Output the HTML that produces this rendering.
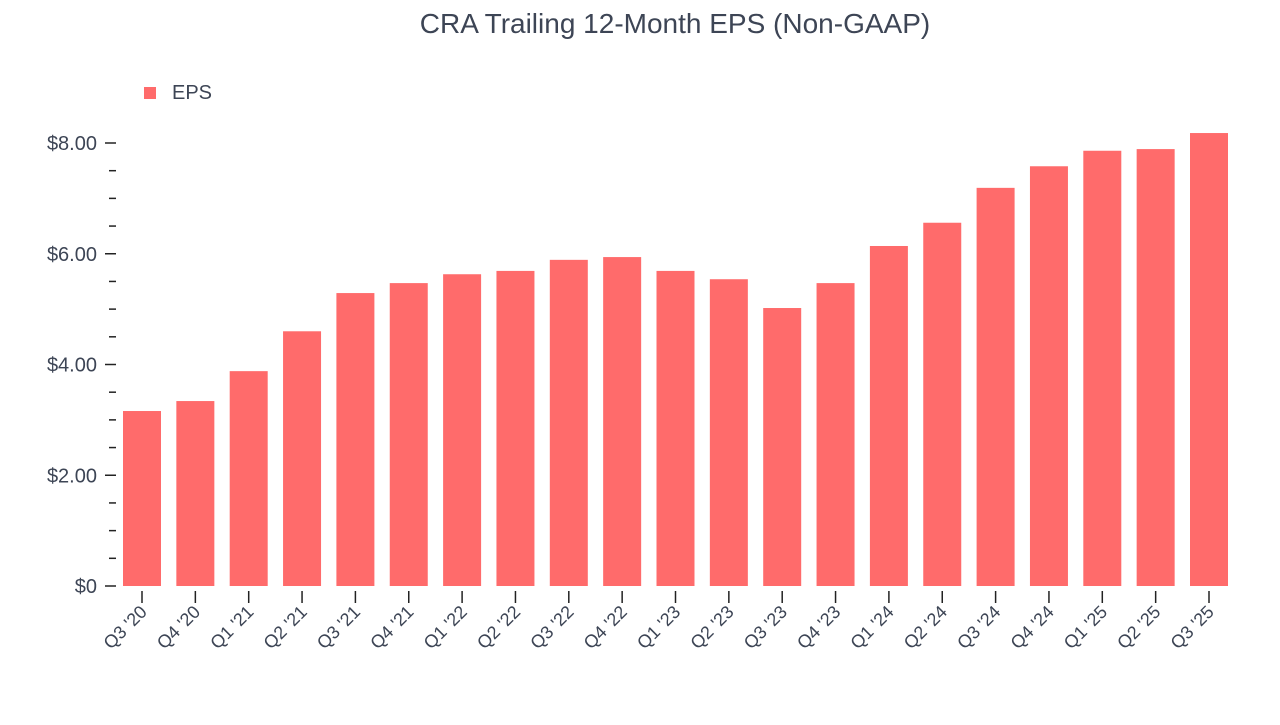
<!DOCTYPE html>
<html><head><meta charset="utf-8"><style>
body{margin:0;background:#fff;font-family:"Liberation Sans",sans-serif;}
svg text{font-family:"Liberation Sans",sans-serif;fill:#3d4555;}
</style></head><body>
<svg width="1280" height="720">
<text x="675" y="33" font-size="28" text-anchor="middle">CRA Trailing 12-Month EPS (Non-GAAP)</text>
<rect x="144" y="87" width="12" height="12" fill="#ff6b6b"/>
<text x="172" y="99" font-size="20">EPS</text>
<g id="plot"></g>
</svg>
<script>
const categories=["Q3 '20","Q4 '20","Q1 '21","Q2 '21","Q3 '21","Q4 '21","Q1 '22","Q2 '22","Q3 '22","Q4 '22","Q1 '23","Q2 '23","Q3 '23","Q4 '23","Q1 '24","Q2 '24","Q3 '24","Q4 '24","Q1 '25","Q2 '25","Q3 '25"];
const eps=[3.16,3.34,3.88,4.60,5.29,5.47,5.63,5.69,5.89,5.94,5.69,5.54,5.02,5.47,6.14,6.56,7.19,7.58,7.86,7.89,8.18];
const yTicks=[0,2,4,6,8];
const yTickLabels=["$0","$2.00","$4.00","$6.00","$8.00"];
const NS="http://www.w3.org/2000/svg";
const g=document.getElementById('plot');
const y=v=>586-v*55.375;
const x=i=>142+i*53.35;
function mk(t,a){const e=document.createElementNS(NS,t);for(const k in a)e.setAttribute(k,a[k]);g.appendChild(e);return e;}
for(let v=0;v<=8.01;v+=0.5){
 const major=Math.abs(v-Math.round(v/2)*2)<1e-6;
 const l=mk('line',{x1:major?105:109,x2:116,y1:y(v),y2:y(v),stroke:'#222','stroke-width':1.5});
 
 
}
yTicks.forEach((v,i)=>{
 const t=mk('text',{x:97,y:y(v)+7,'font-size':20,'text-anchor':'end'});
 t.textContent=yTickLabels[i];
 
 
});
eps.forEach((v,i)=>{
 const r=mk('rect',{x:x(i)-19,y:y(v),width:38,height:586-y(v),fill:'#ff6b6b'});
 
 
 const tk=mk('line',{x1:x(i),x2:x(i),y1:591,y2:603,stroke:'#222','stroke-width':1.5});
 
 
 const t=mk('text',{x:x(i)+6,y:613,'font-size':18,'text-anchor':'end',transform:`rotate(-45 ${x(i)+6} 613)`});
 t.textContent=categories[i];
 
 
});
</script>
</body></html>
